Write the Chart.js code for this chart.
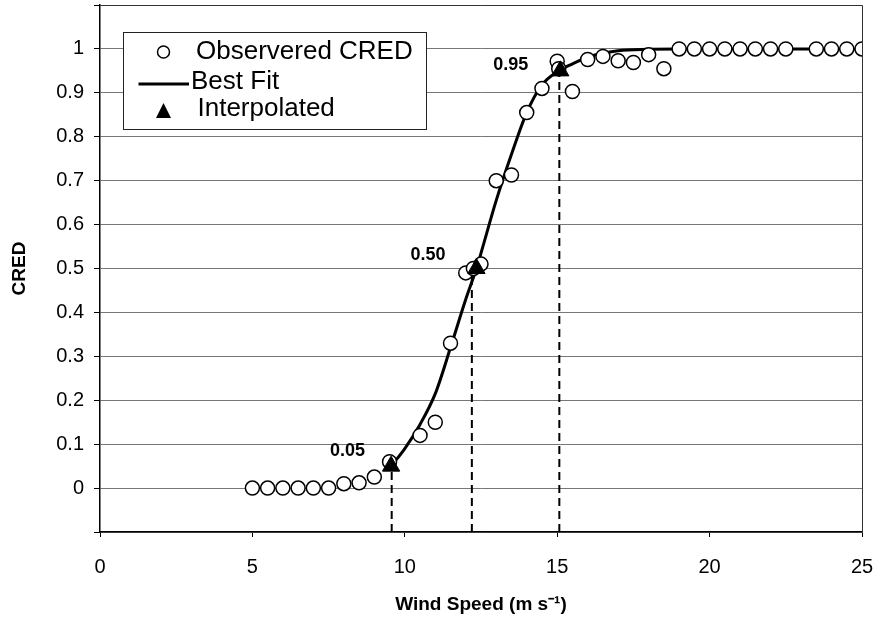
<!DOCTYPE html>
<html>
<head>
<meta charset="utf-8">
<script src="https://cdn.jsdelivr.net/npm/chart.js@4.4.0/dist/chart.umd.min.js"></script>
<style>
  html, body { margin: 0; padding: 0; background: #fff; }
</style>
</head>
<body>
<canvas id="credChart" width="874" height="619"></canvas>
<script>
// observed CRED points
const obsX = [5, 5.5, 6, 6.5, 7, 7.5, 8, 8.5, 9, 9.5, 10.5, 11, 11.5, 12, 12.25, 12.5, 13, 13.5, 14, 14.5,
  15, 15.05, 15.5, 16, 16.5, 17, 17.5, 18, 18.5, 19, 19.5, 20, 20.5, 21, 21.5, 22, 22.5, 23.5, 24, 24.5, 25];
const obsY = [0, 0, 0, 0, 0, 0, 0.01, 0.012, 0.025, 0.06, 0.12, 0.15, 0.33, 0.49, 0.5, 0.51, 0.7, 0.713, 0.855, 0.91,
  0.972, 0.955, 0.903, 0.976, 0.983, 0.973, 0.969, 0.987, 0.955, 1, 1, 1, 1, 1, 1, 1, 1, 1, 1, 1, 1];

// best fit curve
const fitX = [9.55, 10, 10.5, 11, 11.5, 12, 12.35, 12.5, 13, 13.5, 14, 14.5, 15, 15.5, 16, 16.5, 17, 18, 19, 25];
const fitY = [0.05, 0.09, 0.145, 0.215, 0.32, 0.43, 0.5, 0.535, 0.655, 0.76, 0.855, 0.918, 0.948, 0.966, 0.981, 0.99, 0.996, 0.999, 1, 1];

// interpolated points
const interpX = [9.55, 12.35, 15.1];
const interpY = [0.05, 0.5, 0.95];
const interpLabels = ["0.05", "0.50", "0.95"];
const dropX = [9.57, 12.2, 15.07];

const xTicks = [0, 5, 10, 15, 20, 25];

const FONT = "'Liberation Sans', Arial, sans-serif";

function toPoints(xs, ys) {
  return xs.map((x, i) => ({ x: x, y: ys[i] }));
}

const dropSets = dropX.map((x, i) => ({
  label: "drop" + i,
  data: [{ x: x, y: -0.1 }, { x: x, y: interpY[i] }],
  showLine: true,
  borderColor: "#000",
  borderWidth: 2,
  borderDash: [8, 5],
  pointRadius: 0,
  order: 3,
}));

const overlayPlugin = {
  id: "overlay",
  afterDraw(chart) {
    const ctx = chart.ctx;
    const xs = chart.scales.x;
    const ys = chart.scales.y;
    const area = chart.chartArea;
    ctx.save();

    // top and right frame
    ctx.strokeStyle = "#333";
    ctx.lineWidth = 1;
    ctx.beginPath();
    ctx.moveTo(area.left, area.top + 0.5);
    ctx.lineTo(area.right + 0.5, area.top + 0.5);
    ctx.lineTo(area.right + 0.5, area.bottom);
    ctx.stroke();

    // labels by the interpolated points
    const shift = [[-26, -15], [-31, -13], [-32, -6]];
    ctx.font = "bold 18px " + FONT;
    ctx.fillStyle = "#000";
    ctx.textAlign = "right";
    ctx.textBaseline = "middle";
    interpLabels.forEach((lbl, i) => {
      const px = xs.getPixelForValue(interpX[i]);
      const py = ys.getPixelForValue(interpY[i]);
      ctx.fillText(lbl, px + shift[i][0], py + shift[i][1]);
    });

    // legend box
    const lx = area.left + 23;
    const ly = area.top + 27;
    ctx.fillStyle = "#fff";
    ctx.fillRect(lx, ly, 303, 97);
    ctx.strokeStyle = "#222";
    ctx.lineWidth = 1;
    ctx.strokeRect(lx + 0.5, ly + 0.5, 303, 97);

    ctx.strokeStyle = "#000";
    ctx.lineWidth = 1.5;
    ctx.beginPath();
    ctx.arc(lx + 40.5, ly + 20, 6, 0, Math.PI * 2);
    ctx.stroke();

    ctx.lineWidth = 3;
    ctx.beginPath();
    ctx.moveTo(lx + 15.5, ly + 52);
    ctx.lineTo(lx + 66, ly + 52);
    ctx.stroke();

    ctx.fillStyle = "#000";
    ctx.beginPath();
    ctx.moveTo(lx + 40.5, ly + 71);
    ctx.lineTo(lx + 48, ly + 86);
    ctx.lineTo(lx + 33, ly + 86);
    ctx.closePath();
    ctx.fill();

    ctx.font = "26px " + FONT;
    ctx.textAlign = "left";
    ctx.fillText("Observered CRED", lx + 73, ly + 20);
    ctx.fillText("Best Fit", lx + 68, ly + 50);
    ctx.fillText("Interpolated", lx + 74.5, ly + 77);

    ctx.restore();
  },
};

new Chart(document.getElementById("credChart"), {
  type: "scatter",
  data: {
    datasets: [
      {
        label: "Interpolated",
        data: toPoints(interpX, interpY),
        pointStyle: "triangle",
        pointRadius: 10,
        backgroundColor: "#000",
        borderColor: "#000",
        borderWidth: 1,
        order: 0,
      },
      {
        label: "Observered CRED",
        data: toPoints(obsX, obsY),
        pointStyle: "circle",
        pointRadius: 7,
        backgroundColor: "#fff",
        borderColor: "#000",
        borderWidth: 1.5,
        order: 1,
      },
      {
        label: "Best Fit",
        data: toPoints(fitX, fitY),
        showLine: true,
        cubicInterpolationMode: "monotone",
        borderColor: "#000",
        borderWidth: 3,
        pointRadius: 0,
        order: 2,
      },
      ...dropSets,
    ],
  },
  options: {
    responsive: false,
    animation: false,
    devicePixelRatio: 1,
    layout: { autoPadding: false, padding: { top: 5, right: 12, left: 0, bottom: 0 } },
    plugins: {
      legend: { display: false },
      tooltip: { enabled: false },
    },
    scales: {
      x: {
        type: "linear",
        min: 0,
        max: 25,
        afterBuildTicks: (scale) => {
          scale.ticks = xTicks.map((v) => ({ value: v }));
        },
        afterFit: (scale) => {
          scale.height = 87;
          scale.paddingLeft = 0;
          scale.paddingRight = 0;
        },
        ticks: {
          font: { family: FONT, size: 20 },
          color: "#000",
          padding: 18,
          maxRotation: 0,
        },
        grid: {
          drawOnChartArea: false,
          drawTicks: true,
          tickLength: 5,
          color: "#000",
        },
        border: { color: "#000", width: 1.5 },
        title: {
          display: true,
          text: "Wind Speed (m s⁻¹)",
          font: { family: FONT, size: 19, weight: "bold" },
          color: "#000",
          padding: { top: 0, bottom: 3 },
        },
      },
      y: {
        type: "linear",
        min: -0.1,
        max: 1.1,
        afterFit: (scale) => {
          scale.width = 100;
          scale.paddingTop = 0;
          scale.paddingBottom = 0;
        },
        ticks: {
          stepSize: 0.1,
          font: { family: FONT, size: 20 },
          color: "#000",
          padding: 10,
          callback: (v) => {
            const r = Math.round(v * 10) / 10;
            if (r < 0 || r > 1) return "";
            return String(r);
          },
        },
        grid: {
          color: "#777",
          lineWidth: 1,
          tickLength: 6,
          tickColor: "#000",
        },
        border: { color: "#000", width: 1.5 },
        title: {
          display: true,
          text: "CRED",
          font: { family: FONT, size: 19, weight: "bold" },
          color: "#000",
          padding: { top: 8, bottom: 0 },
        },
      },
    },
  },
  plugins: [overlayPlugin],
});
</script>
</body>
</html>
